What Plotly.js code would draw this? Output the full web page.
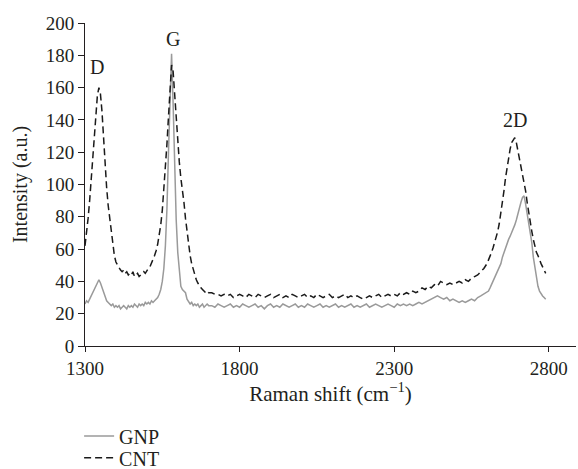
<!DOCTYPE html>
<html>
<head>
<meta charset="utf-8">
<script src="https://cdn.plot.ly/plotly-3.0.1.min.js"></script>
<style>html,body{margin:0;padding:0;background:#fff;}#chart{width:578px;height:469px;}</style>
</head>
<body>
<div id="chart"></div>
<script>
// Raman shift (cm^-1), three segments
var shiftA = [1300,1305,1310,1315,1320,1325,1330,1335,1340,1345,
  1350,1355,1360,1365,1370,1375,1380,1385,1390,1395,
  1400,1405,1410,1415,1420,1425,1430,1435,1440,1445,
  1450,1455,1460,1465,1470,1475,1480,1485,1490,1495,
  1500,1505,1510,1515,1520,1525,1530,1535,1540,1545,
  1550,1555,1560,1565,1570,1575,1580,1585,1590,1595,
  1600,1605,1610,1615,1620,1625,1630,1635,1640,1645,
  1650,1655,1660,1665,1670,1675,1680,1685,1690,1695,
  1700];
var shiftB = [1710,1720,1730,1740,1750,1760,1770,1780,1790,1800,
  1810,1820,1830,1840,1850,1860,1870,1880,1890,1900,
  1910,1920,1930,1940,1950,1960,1970,1980,1990,2000,
  2010,2020,2030,2040,2050,2060,2070,2080,2090,2100,
  2110,2120,2130,2140,2150,2160,2170,2180,2190,2200,
  2210,2220,2230,2240,2250,2260,2270,2280,2290,2300,
  2310,2320,2330,2340,2350,2360,2370,2380,2390,2400,
  2410,2420,2430,2440,2450,2460,2470,2480,2490,2500,
  2510,2520,2530,2540,2550,2560,2570,2580,2590,2600];
var shiftC = [2605,2610,2615,2620,2625,2630,2635,2640,2645,2650,
  2655,2660,2665,2670,2675,2680,2685,2690,2695,2700,
  2705,2710,2715,2720,2725,2730,2735,2740,2745,2750,
  2755,2760,2765,2770,2775,2780,2785,2790];

var cntA = [62,70,79,90,103,117,131,145,155,160,
  156,145,128,112,98,87,79,70,62,56,
  52,50,48,47,46,47,45,46,44,45,
  44,46,43,44,45,43,44,45,46,45,
  47,48,49,51,53,56,59,63,69,75,
  84,96,110,125,142,160,174,170,155,142,
  128,114,104,97,89,79,70,62,56,51,
  47,44,41,39,37,36,35,34,33,34,
  33];
var cntB = [33,32,32,31,32,31,32,30,31,32,
  31,30,32,31,30,32,31,30,31,32,
  30,31,32,30,31,30,32,31,30,31,
  32,30,31,30,32,31,30,31,32,30,
  31,30,31,32,30,31,30,31,30,29,
  30,31,30,31,32,30,31,32,31,32,
  31,33,32,33,32,34,33,34,36,35,
  37,36,38,37,40,39,38,39,38,39,
  40,39,41,40,42,43,44,46,48,51];
var cntC = [53,55,58,61,64,67,71,76,82,89,
  96,104,111,117,122,126,128,129,126,121,
  116,111,107,103,96,89,82,77,71,66,
  62,58,56,53,51,49,47,45];

var gnpA = [26,28,27,29,31,33,35,38,39,41,
  39,36,33,30,28,27,26,25,26,24,
  25,24,25,23,24,25,24,23,25,24,
  25,24,26,25,24,26,25,26,25,27,
  26,27,26,28,27,28,29,30,32,35,
  40,48,62,85,120,160,181,150,110,78,
  58,45,37,35,34,33,29,27,26,27,
  25,26,25,26,24,25,26,24,25,26,
  25];
var gnpB = [25,24,26,25,24,25,26,24,25,24,
  26,25,24,25,26,24,25,23,25,26,
  24,25,24,26,25,24,25,26,24,25,
  24,26,25,24,25,26,24,25,24,25,
  26,24,25,24,25,26,24,25,24,25,
  26,24,25,26,25,24,25,26,25,24,
  26,25,26,25,26,25,26,27,26,27,
  28,29,30,31,30,29,30,28,29,28,
  27,28,27,28,29,28,30,31,32,33];
var gnpC = [34,36,38,40,42,44,46,48,51,55,
  58,61,64,66,68,70,72,75,78,82,
  86,89,92,93,88,82,77,72,64,55,
  48,41,37,34,32,31,30,29];

var xTicks = [1300, 1800, 2300, 2800];
var peakLabels = ["D", "G", "2D"];
var peakX = [1338, 1584, 2691];
var peakY = [173, 190, 140];

var shift = shiftA.concat(shiftB, shiftC);
var gnp = gnpA.concat(gnpB, gnpC);
var cnt = cntA.concat(cntB, cntC);

var FONT = "Liberation Serif, Times New Roman, serif";
var TXT = "#231f20";

var traces = [
  {x: shift, y: gnp, name: "GNP", type: "scatter", mode: "lines", legend: "legend",
   line: {color: "#9a9a9a", width: 1.5}},
  {x: shift, y: cnt, name: "CNT", type: "scatter", mode: "lines", legend: "legend2",
   line: {color: "#1a1a1a", width: 1.5, dash: "7px,4px"}}
];

var annotations = peakLabels.map(function(t, i){
  return {x: peakX[i], y: peakY[i], text: t, showarrow: false,
          xref: "x", yref: "y", font: {family: FONT, size: 20, color: TXT}};
});

var legFont = {family: FONT, size: 20, color: TXT};
var layout = {
  width: 578, height: 469,
  margin: {l: 85, r: 2, t: 23, b: 123, autoexpand: false},
  paper_bgcolor: "#fff", plot_bgcolor: "#fff",
  font: {family: FONT, size: 18, color: TXT},
  showlegend: true,
  legend: {x: -0.012, y: -0.279, xanchor: "left", yanchor: "middle",
           font: legFont, bgcolor: "rgba(0,0,0,0)"},
  legend2: {x: -0.012, y: -0.346, xanchor: "left", yanchor: "middle",
           font: legFont, bgcolor: "rgba(0,0,0,0)"},
  xaxis: {range: [1300, 2888], tickvals: xTicks, ticktext: xTicks.map(String),
          ticks: "outside", ticklen: 5, tickcolor: TXT, showline: true,
          linecolor: TXT, linewidth: 1, showgrid: false, zeroline: false,
          tickfont: {family: FONT, size: 19, color: TXT},
          title: {text: "Raman shift (cm<sup>−1</sup>)", font: {family: FONT, size: 21, color: TXT}, standoff: 5}},
  yaxis: {range: [0, 200], dtick: 20, tick0: 0,
          ticks: "outside", ticklen: 6, tickcolor: TXT, showline: true,
          linecolor: TXT, linewidth: 1, showgrid: false, zeroline: false,
          tickfont: {family: FONT, size: 19, color: TXT},
          title: {text: "Intensity (a.u.)", font: {family: FONT, size: 20, color: TXT}, standoff: 12}},
  annotations: annotations
};

Plotly.newPlot("chart", traces, layout, {displayModeBar: false, staticPlot: true});
</script>
</body>
</html>
